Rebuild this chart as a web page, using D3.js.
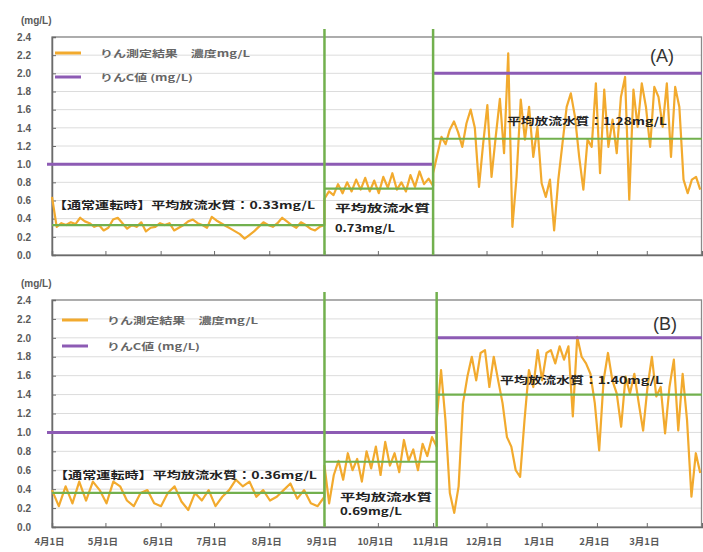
<!DOCTYPE html>
<html><head><meta charset="utf-8">
<script src="https://cdn.jsdelivr.net/npm/d3@7"></script>
<style>body{margin:0;background:#fff}svg{display:block}text{font-family:"Noto Sans CJK JP","Noto Sans",sans-serif}</style>
</head><body><svg id="c" width="703" height="552"></svg>
<script>
// ---------- data ----------
const yTickValues = [0,0.2,0.4,0.6,0.8,1.0,1.2,1.4,1.6,1.8,2.0,2.2,2.4];
const monthTicks = ["2012-04-01","2012-05-01","2012-06-01","2012-07-01","2012-08-01","2012-09-01","2012-10-01","2012-11-01","2012-12-01","2013-01-01","2013-02-01","2013-03-01"];
const monthLabels = ["4月1日","5月1日","6月1日","7月1日","8月1日","9月1日","10月1日","11月1日","12月1日","1月1日","2月1日","3月1日"];
const domainStart = "2012-04-01", domainEnd = "2013-04-01";
const seriesEnd = "2013-03-31";

// Panel A
const aBounds = ["2012-04-01","2012-09-01","2012-11-01"];
const aP1 = [0.64,0.31,0.35,0.33,0.36,0.34,0.41,0.37,0.35,0.31,0.33,0.27,0.30,0.39,0.41,0.35,0.29,0.33,0.31,0.36,0.26,0.30,0.31,0.35,0.33,0.35,0.27,0.30,0.33,0.37,0.39,0.35,0.33,0.30,0.42,0.38,0.35,0.32,0.29,0.26,0.23,0.18,0.22,0.26,0.31,0.36,0.33,0.31,0.35,0.41,0.37,0.33,0.30,0.36,0.33,0.29,0.27,0.31,0.33];
const aP2 = [0.62,0.70,0.66,0.78,0.68,0.80,0.70,0.83,0.72,0.85,0.70,0.82,0.68,0.86,0.74,0.90,0.72,0.80,0.70,0.88,0.75,0.92,0.78,0.84,0.76];
const aP3 = [0.90,1.10,1.30,1.22,1.38,1.47,1.35,1.19,1.45,1.60,1.40,0.75,1.23,1.65,0.86,1.30,1.72,1.12,2.22,0.31,0.86,1.71,1.27,1.63,1.08,1.41,0.79,0.64,0.83,0.27,0.83,1.23,1.63,1.78,1.52,1.08,0.72,1.27,1.19,1.89,0.90,1.82,1.19,1.49,1.12,1.74,1.96,0.61,1.82,1.41,1.89,1.63,1.19,1.85,1.74,1.41,1.89,1.08,1.85,1.63,0.83,0.68,0.83,0.86,0.72];
const aAvg = [0.33,0.73,1.28];
const aCval = [1.0,2.0];
const aNotes = ["【通常運転時】平均放流水質：0.33mg/L","平均放流水質","0.73mg/L","平均放流水質：1.28mg/L"];

// Panel B
const bBounds = ["2012-04-01","2012-09-01","2012-11-03"];
const bP1 = [0.39,0.22,0.43,0.25,0.48,0.28,0.48,0.39,0.25,0.48,0.43,0.28,0.22,0.36,0.39,0.25,0.22,0.36,0.43,0.27,0.18,0.36,0.28,0.39,0.22,0.32,0.39,0.50,0.43,0.48,0.32,0.39,0.28,0.32,0.39,0.46,0.30,0.39,0.25,0.22,0.32];
const bP2 = [0.65,0.25,0.55,0.70,0.50,0.78,0.60,0.72,0.48,0.80,0.62,0.85,0.55,0.90,0.65,0.78,0.58,0.92,0.70,0.82,0.60,0.88,0.75,0.95,0.85];
const bP3 = [1.13,1.66,1.13,0.36,0.15,0.43,1.31,1.59,1.80,1.55,1.84,1.87,1.48,1.80,1.55,1.31,0.95,0.85,0.60,0.53,1.13,1.66,1.48,1.87,1.55,1.84,1.87,1.73,1.91,1.77,1.91,1.17,2.01,1.80,1.73,1.62,1.31,0.81,1.55,1.84,1.55,1.41,1.06,1.59,1.41,1.62,1.31,1.02,1.48,1.80,1.38,1.48,0.99,1.48,1.77,1.02,1.62,1.13,0.32,0.78,0.57];
const bAvg = [0.36,0.69,1.40];
const bCval = [1.0,2.0];
const bNotes = ["【通常運転時】平均放流水質：0.36mg/L","平均放流水質","0.69mg/L","平均放流水質：1.40mg/L"];

const legendLabels = ["りん測定結果　濃度mg/L","りんC値 (mg/L)"];
const unitLabel = "(mg/L)";

// ---------- drawing ----------
const parse = d3.timeParse("%Y-%m-%d");
const svg = d3.select("#c");
const C = {orange:"#f2aa2e", purple:"#8d5bb4", green:"#72b04e", grid:"#dcdcdc", axis:"#6b6b6b", text:"#5a5a5a"};
const x = d3.scaleTime().domain([parse(domainStart), parse(domainEnd)]).range([52, 702]);

function segPoints(vals, s, e) {
  const t0 = parse(s).getTime(), t1 = parse(e).getTime();
  return vals.map((v,i) => ({d:new Date(t0 + (t1-t0)*i/(vals.length-1)), v}));
}

function panel(cfg) {
  const y = d3.scaleLinear().domain([0,2.4]).range([cfg.bottom, cfg.top]);
  const g = svg.append("g");
  g.selectAll(".gl").data(yTickValues.slice(1)).join("line")
    .attr("x1",x.range()[0]).attr("x2",x.range()[1])
    .attr("y1",d=>y(d)).attr("y2",d=>y(d))
    .attr("stroke",C.grid).attr("stroke-width",1);
  g.append("rect").attr("x",x.range()[0]).attr("y",y(2.4))
    .attr("width",x.range()[1]-x.range()[0]-0.5).attr("height",y(0)-y(2.4))
    .attr("fill","none").attr("stroke","#8a8a8a").attr("stroke-width",1.3);
  const ya = d3.axisLeft(y).tickValues(yTickValues).tickFormat(d3.format(".1f")).tickSize(-4).tickPadding(21);
  const yg = g.append("g").attr("transform",`translate(${x.range()[0]},0)`).call(ya);
  yg.select(".domain").attr("stroke",C.axis).attr("stroke-width",1.5);
  yg.selectAll(".tick line").attr("stroke",C.axis);
  yg.selectAll("text").attr("font-size",10).attr("font-weight","bold").attr("fill",C.text)
    .style("font-family","Liberation Sans, Arial, sans-serif");
  const xa = d3.axisBottom(x).tickValues(monthTicks.map(parse)).tickSize(-4)
    .tickFormat((d,i)=> cfg.labels ? monthLabels[i] : "").tickPadding(11);
  const xg = g.append("g").attr("transform",`translate(0,${y(0)})`).call(xa);
  xg.select(".domain").attr("stroke",C.axis).attr("stroke-width",1.5);
  xg.selectAll(".tick line").attr("stroke",C.axis);
  xg.selectAll("text").attr("font-size",9.5).attr("font-weight","bold").attr("fill",C.text).attr("dx",-3);
  g.append("text").attr("x",21).attr("y",cfg.top-13).attr("font-size",10).attr("font-weight","bold")
    .attr("fill",C.text).style("font-family","Liberation Sans, Arial, sans-serif").text(unitLabel);

  const b = cfg.bounds.map(parse);
  const xEnd = x.range()[1];
  const pts = [].concat(
    segPoints(cfg.p1, cfg.bounds[0], cfg.bounds[1]),
    segPoints(cfg.p2, cfg.bounds[1], cfg.bounds[2]),
    segPoints(cfg.p3, cfg.bounds[2], seriesEnd));
  g.append("path").datum(pts)
    .attr("d", d3.line().x(d=>x(d.d)).y(d=>y(d.v)))
    .attr("fill","none").attr("stroke",C.orange).attr("stroke-width",2.2).attr("stroke-linejoin","round");
  const segs = [[x(b[0]),x(b[1])],[x(b[1]),x(b[2])],[x(b[2]),xEnd]];
  g.selectAll(".avg").data(cfg.avg).join("line")
    .attr("x1",(d,i)=>segs[i][0]).attr("x2",(d,i)=>segs[i][1])
    .attr("y1",d=>y(d)).attr("y2",d=>y(d))
    .attr("stroke",C.green).attr("stroke-width",2.2);
  const cs = [[x(b[0])-5,x(b[2])],[x(b[2]),xEnd]];
  g.selectAll(".cv").data(cfg.cval).join("line")
    .attr("x1",(d,i)=>cs[i][0]).attr("x2",(d,i)=>cs[i][1])
    .attr("y1",d=>y(d)).attr("y2",d=>y(d))
    .attr("stroke",C.purple).attr("stroke-width",3);
  g.selectAll(".vb").data([b[1],b[2]]).join("line")
    .attr("x1",d=>x(d)).attr("x2",d=>x(d)).attr("y1",y(2.4)-8).attr("y2",y(0))
    .attr("stroke",C.green).attr("stroke-width",2.5);
  const lg = g.append("g");
  [C.orange, C.purple].forEach((col,i)=>{
    const ly = cfg.legY[i];
    lg.append("line").attr("x1",cfg.legX).attr("x2",cfg.legX+26).attr("y1",ly).attr("y2",ly)
      .attr("stroke",col).attr("stroke-width",3);
    lg.append("text").attr("x",cfg.legX+45).attr("y",ly+3.5).attr("font-size",9).attr("font-weight","bold")
      .attr("fill","#666").attr("textLength",cfg.legW[i]).attr("lengthAdjust","spacingAndGlyphs").text(legendLabels[i]);
  });
  g.append("text").attr("x",cfg.tagX).attr("y",cfg.tagY).attr("font-size",18).attr("fill","#333")
    .style("font-family","Liberation Sans, Arial, sans-serif").text(cfg.tag);
  cfg.notePos.forEach((p,i)=>{
    g.append("text").attr("x",p[0]).attr("y",p[1]).attr("font-size",10.5).attr("font-weight","bold")
      .attr("fill","#222").attr("textLength",p[2]).attr("lengthAdjust","spacingAndGlyphs").text(cfg.notes[i]);
  });
}

panel({top:37,bottom:255,bounds:aBounds,p1:aP1,p2:aP2,p3:aP3,avg:aAvg,cval:aCval,notes:aNotes,labels:false,
  legX:55,legY:[53,77],legW:[150,93],tag:"(A)",tagX:650,tagY:62,
  notePos:[[53,209,262],[335,212,95],[335,232,60],[507,125,160]]});
panel({top:300,bottom:527,bounds:bBounds,p1:bP1,p2:bP2,p3:bP3,avg:bAvg,cval:bCval,notes:bNotes,labels:true,
  legX:62,legY:[320,346],legW:[151,93],tag:"(B)",tagX:653,tagY:330,
  notePos:[[54,479,263],[340,501,92],[340,515,62],[500,384,163]]});
</script></body></html>
